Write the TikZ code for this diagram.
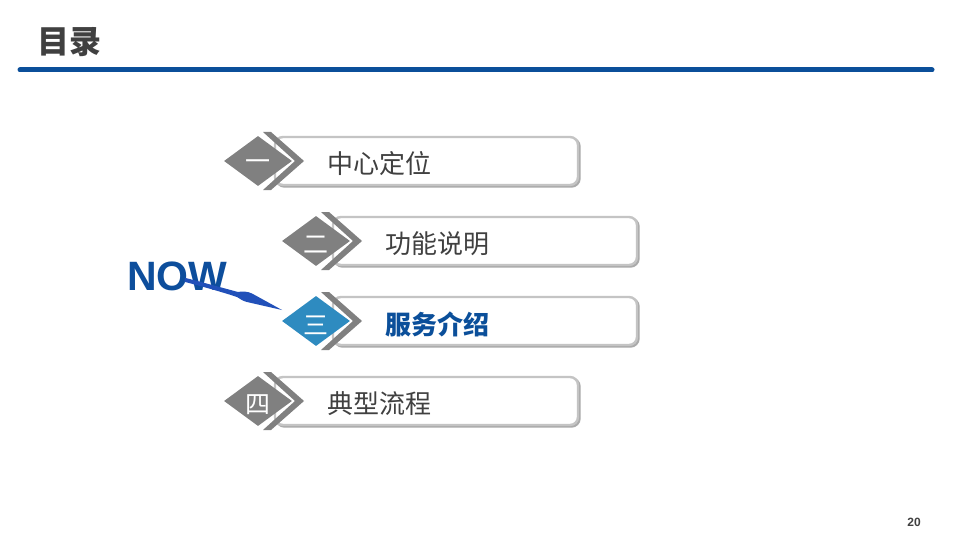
\documentclass[tikz,border=0pt]{standalone}
\usepackage{fontspec}
\setmainfont{Liberation Sans}
\newfontfamily\cjk{Noto Sans CJK SC}
\usetikzlibrary{shapes.geometric}
\definecolor{titlegray}{RGB}{64,64,64}
\definecolor{linkblue}{RGB}{11,79,154}
\definecolor{dgray}{RGB}{128,128,128}
\definecolor{boxgray}{RGB}{196,196,196}
\definecolor{shadowgray}{RGB}{170,170,170}
\definecolor{nowblue}{RGB}{13,78,156}
\definecolor{needleblue}{RGB}{33,80,185}
\definecolor{activeblue}{RGB}{46,139,192}
\tikzset{
  itembox/.style={draw=boxgray, line width=2.4pt, fill=white, rounded corners=8pt},
  itemshadow/.style={draw=shadowgray, line width=2.4pt, rounded corners=8pt},
  itemtext/.style={anchor=west, inner sep=0pt, text=titlegray, font=\cjk\fontsize{26}{28}\selectfont},
  numtext/.style={inner sep=0pt, text=white, font=\cjk\fontsize{25}{27}\selectfont},
}
% item: #1 name, #2 cx, #3 cy, #4 box right, #5 diamond colour, #6 numeral, #7 label, #8 label style
\newcommand{\tocitem}[8]{%
  \draw[itemshadow] (#2+18.5,#3-22.5) rectangle (#4+1.5,#3+25.5);
  \draw[itembox] (#2+17,#3-24) rectangle (#4,#3+24);
  \fill[dgray] (#2+13,#3-29) -- (#2+46,#3) -- (#2+13,#3+29) -- (#2+5,#3+29) -- (#2+37,#3) -- (#2+5,#3-29) -- cycle;
  \node[draw=none, fill=#5, shape=diamond, minimum width=68pt, minimum height=50pt, inner sep=0pt] (#1d) at (#2,#3) {};
  \node[numtext] (#1n) at (#2,#3+4) {#6};
  \node[itemtext,#8] (#1t) at (#2+69,#3+3) {#7};
}
\begin{document}
\begin{tikzpicture}[x=1pt,y=-1pt]
\useasboundingbox (0,0) rectangle (960,540);
\fill[white] (0,0) rectangle (960,540);
% title
\node[anchor=west, inner sep=0pt, text=titlegray, font=\cjk\bfseries\fontsize{32}{34}\selectfont] (title) at (37,42) {目录};
\coordinate (ruleL) at (20,70);
\coordinate (ruleR) at (932,70);
\draw[linkblue, line width=5pt, line cap=round] (ruleL) -- (ruleR);
% items
\tocitem{a}{258}{161}{578}{dgray}{一}{中心定位}{}
\tocitem{b}{316}{241}{637}{dgray}{二}{功能说明}{}
\tocitem{c}{316}{321}{637}{activeblue}{三}{服务介绍}{text=linkblue, font=\cjk\bfseries\fontsize{26}{28}\selectfont}
\tocitem{d}{258}{401}{578}{dgray}{四}{典型流程}{}
% NOW pointer
\node[anchor=west, inner sep=0pt, text=nowblue, font=\bfseries\fontsize{41}{43}\selectfont] (now) at (127,276) {NOW};
\fill[needleblue] (185,277.8) .. controls (205,283) and (225,288.5) .. (238,292)
   .. controls (242,291) and (248,291.5) .. (252,293.5)
   -- (282,310)
   -- (247,302)
   .. controls (243,301) and (240,299) .. (237,297)
   .. controls (222,292) and (204,287) .. (184.5,281.8) -- cycle;
% page number
\node[inner sep=0pt, text=titlegray, font=\bfseries\fontsize{12}{13}\selectfont] (page) at (914,522) {20};
\end{tikzpicture}
\end{document}
